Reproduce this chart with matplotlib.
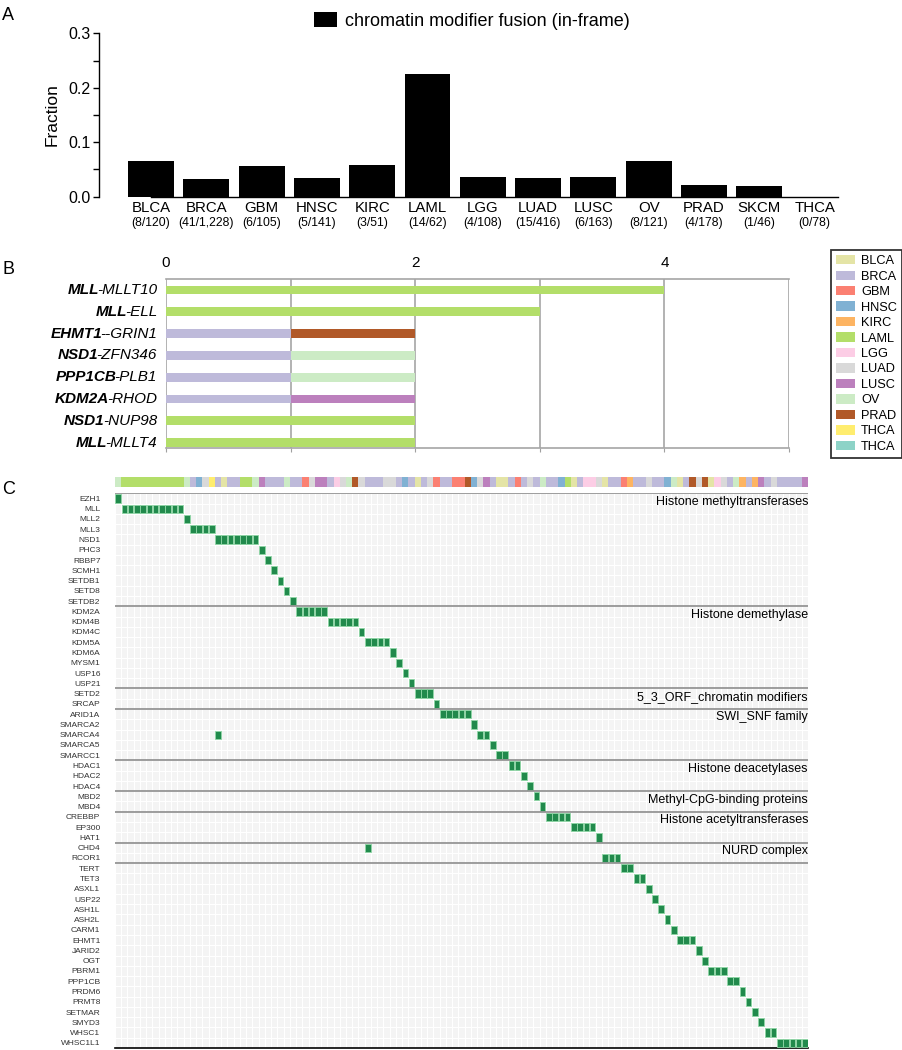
import matplotlib
matplotlib.use("Agg")
import matplotlib.pyplot as plt
from matplotlib.patches import Patch
import numpy as np

plt.rcParams["font.family"] = ["Liberation Sans", "DejaVu Sans"]

W, H = 902, 1050

# ---- panel A data ----
CANCERS = ["BLCA", "BRCA", "GBM", "HNSC", "KIRC", "LAML", "LGG", "LUAD", "LUSC",
           "OV", "PRAD", "SKCM", "THCA"]
CANCER_COUNTS = ["(8/120)", "(41/1,228)", "(6/105)", "(5/141)", "(3/51)", "(14/62)",
                 "(4/108)", "(15/416)", "(6/163)", "(8/121)", "(4/178)", "(1/46)", "(0/78)"]
FRACTION = [0.065, 0.032, 0.056, 0.034, 0.058, 0.225, 0.036, 0.034, 0.036,
            0.065, 0.021, 0.020, 0.0]

# ---- panel B data ----
FUSION_PREFIX = ["MLL", "MLL", "EHMT1", "NSD1", "PPP1CB", "KDM2A", "NSD1", "MLL"]
FUSION_SUFFIX = ["-MLLT10", "-ELL", "--GRIN1", "-ZFN346", "-PLB1", "-RHOD", "-NUP98", "-MLLT4"]
FUSION_SAMPLES = [
    [("LAML", 4)],
    [("LAML", 3)],
    [("BRCA", 1), ("PRAD", 1)],
    [("BRCA", 1), ("OV", 1)],
    [("BRCA", 1), ("OV", 1)],
    [("BRCA", 1), ("LUSC", 1)],
    [("LAML", 2)],
    [("LAML", 2)],
]

TYPE_KEYS = ["BLCA", "BRCA", "GBM", "HNSC", "KIRC", "LAML", "LGG", "LUAD", "LUSC",
             "OV", "PRAD", "SKCM", "THCA"]
TYPE_LABELS = ["BLCA", "BRCA", "GBM", "HNSC", "KIRC", "LAML", "LGG", "LUAD", "LUSC",
               "OV", "PRAD", "THCA", "THCA"]
TYPE_COLORS = ["#e4e4a6", "#bebada", "#fb8072", "#80b1d3", "#fdb462", "#b3de69",
               "#fccde5", "#d9d9d9", "#bc80bd", "#ccebc5", "#b15928", "#ffed6f", "#8dd3c7"]
COLOR_OF = dict(zip(TYPE_KEYS, TYPE_COLORS))

# ---- panel C data ----
GENES = ["EZH1", "MLL", "MLL2", "MLL3", "NSD1", "PHC3", "RBBP7", "SCMH1", "SETDB1", "SETD8",
         "SETDB2", "KDM2A", "KDM4B", "KDM4C", "KDM5A", "KDM6A", "MYSM1", "USP16", "USP21",
         "SETD2", "SRCAP", "ARID1A", "SMARCA2", "SMARCA4", "SMARCA5", "SMARCC1", "HDAC1",
         "HDAC2", "HDAC4", "MBD2", "MBD4", "CREBBP", "EP300", "HAT1", "CHD4", "RCOR1",
         "TERT", "TET3", "ASXL1", "USP22", "ASH1L", "ASH2L", "CARM1", "EHMT1", "JARID2",
         "OGT", "PBRM1", "PPP1CB", "PRDM6", "PRMT8", "SETMAR", "SMYD3", "WHSC1", "WHSC1L1"]
# samples per gene in the staircase ordering
GENE_SAMPLES = [1, 10, 1, 4, 7, 1, 1, 1, 1, 1,
                1, 5, 5, 1, 4, 1, 1, 1, 1,
                3, 1, 5, 1, 2, 1, 2, 2,
                1, 1, 1, 1, 4, 4, 1, 0, 3,
                2, 2, 1, 1, 1, 1, 1, 3, 1,
                1, 3, 2, 1, 1, 1, 1, 2, 5]
# additional hits outside the staircase: (gene, sample column)
EXTRA_HITS = [("SMARCA4", 16), ("CHD4", 40)]

GROUP_NAMES = ["Histone methyltransferases", "Histone demethylase",
               "5_3_ORF_chromatin modifiers", "SWI_SNF family", "Histone deacetylases",
               "Methyl-CpG-binding proteins", "Histone acetyltransferases", "NURD complex", ""]
GROUP_SIZES = [11, 8, 2, 5, 3, 2, 3, 2, 18]

SAMPLE_TYPES = (["OV"] + ["LAML"] * 10 +
                ["OV", "BRCA", "HNSC", "LUAD", "SKCM", "BRCA", "BLCA", "BRCA", "BRCA",
                 "LAML", "LAML", "OV", "LUSC", "BRCA", "BRCA", "BRCA", "OV", "BRCA", "BRCA",
                 "GBM", "LUAD", "LUSC", "LUSC", "BRCA", "LGG", "LUAD", "OV", "PRAD", "LUAD",
                 "BRCA", "BRCA", "BRCA", "LUAD", "LUAD", "BRCA", "HNSC", "BRCA", "BLCA", "BRCA",
                 "LUAD", "GBM", "BRCA", "BRCA", "GBM", "GBM", "PRAD", "HNSC", "LUAD", "LUSC",
                 "BRCA", "BLCA", "BLCA", "BRCA", "GBM", "BRCA", "LUAD", "BRCA", "OV", "BRCA",
                 "BRCA", "HNSC", "LAML", "BLCA", "BRCA", "LGG", "LGG", "LUAD", "BLCA", "BRCA",
                 "BRCA", "GBM", "KIRC", "BRCA", "BRCA", "LUAD", "BRCA", "BRCA", "HNSC", "OV",
                 "BLCA", "BRCA", "PRAD", "LUAD", "PRAD", "BLCA", "LGG", "LUAD", "BRCA", "OV",
                 "KIRC", "BRCA", "KIRC", "LUSC", "BRCA", "LUAD", "BRCA", "BRCA", "BRCA", "BRCA",
                 "LUSC"])


def px_axes(fig, left, top, right, bottom):
    return fig.add_axes([left / W, 1 - bottom / H, (right - left) / W, (bottom - top) / H])


fig = plt.figure(figsize=(W / 100, H / 100), dpi=100)

# ================= Panel A =================
axA = px_axes(fig, 99, 33.3, 840, 196.7)
x = np.arange(len(CANCERS))
axA.bar(x, FRACTION, width=0.83, color="black", label="chromatin modifier fusion (in-frame)")
axA.set_xlim(-0.94, 12.46)
axA.set_ylim(0, 0.3)
axA.set_yticks([0.0, 0.1, 0.2, 0.3])
axA.set_yticklabels(["0.0", "0.1", "0.2", "0.3"])
axA.set_yticks([0.05, 0.15, 0.25], minor=True)
axA.tick_params(axis="y", which="both", direction="out", length=4, width=1, labelsize=11.5, pad=2)
axA.set_xticks([])
for s in ["top", "right"]:
    axA.spines[s].set_visible(False)
axA.spines["left"].set_linewidth(1)
axA.spines["bottom"].set_linewidth(1)
axA.spines["bottom"].set_bounds(0, 12.42)
axA.set_ylabel("Fraction", fontsize=12.5, labelpad=6)
for i, (name, cnt) in enumerate(zip(CANCERS, CANCER_COUNTS)):
    axA.annotate(name, xy=(i, 0), xycoords=("data", "axes fraction"), xytext=(0, -11.5),
                 textcoords="offset pixels", ha="center", va="center", fontsize=10.8)
    axA.annotate(cnt, xy=(i, 0), xycoords=("data", "axes fraction"), xytext=(0, -26),
                 textcoords="offset pixels", ha="center", va="center", fontsize=8.8)
axA.legend(loc="center left", bbox_to_anchor=(314 / W, 1 - 21 / H), bbox_transform=fig.transFigure,
           frameon=False, fontsize=13, handlelength=1.25, handleheight=0.9, handletextpad=0.45,
           borderpad=0, borderaxespad=0)
fig.text(2 / W, 1 - 15 / H, "A", fontsize=13, va="center", ha="left")

# ================= Panel B =================
axB = px_axes(fig, 166, 279.3, 789, 448.3)
for i, samples in enumerate(FUSION_SAMPLES):
    left = 0
    for ctype, n in samples:
        axB.barh(i, n, left=left, height=0.41, color=COLOR_OF[ctype], zorder=3)
        left += n
axB.set_xlim(0, 5)
axB.set_ylim(7.26, -0.49)
axB.set_xticks(range(6))
axB.set_xticklabels(["0", "", "2", "", "4", ""])
axB.tick_params(axis="x", top=False, bottom=True, labeltop=True, labelbottom=False,
                length=3, color="#a0a0a0", labelsize=11, pad=4)
axB.set_yticks([])
axB.grid(axis="x", color="#a6a6a6", linewidth=1.2, zorder=1)
for s in ["left", "right"]:
    axB.spines[s].set_visible(False)
for s in ["top", "bottom"]:
    axB.spines[s].set_color("#a6a6a6")
    axB.spines[s].set_linewidth(1.2)
for i, (pre, suf) in enumerate(zip(FUSION_PREFIX, FUSION_SUFFIX)):
    t = axB.annotate(suf, xy=(0, i), xycoords="data", xytext=(-9, 0), textcoords="offset pixels",
                     ha="right", va="center", fontsize=11, style="italic")
    axB.annotate(pre, xy=(0, 0), xycoords=t, xytext=(2, 0), textcoords="offset pixels",
                 ha="right", va="bottom", fontsize=11, style="italic", weight="bold")
handles = [Patch(facecolor=c, edgecolor="none") for c in TYPE_COLORS]
leg = fig.legend(handles, TYPE_LABELS, loc="upper left", bbox_to_anchor=(831 / W, 1 - 250 / H),
                 fontsize=9.2, frameon=True, fancybox=False, edgecolor="black", handlelength=1.45,
                 handleheight=0.75, labelspacing=0.26, handletextpad=0.5, borderpad=0.4,
                 borderaxespad=0)
leg.get_frame().set_linewidth(1.3)
fig.text(2 / W, 1 - 270 / H, "B", fontsize=13, va="center", ha="left")

# ================= Panel C =================
n_samples = len(SAMPLE_TYPES)
axS = px_axes(fig, 115, 477.3, 808, 487.3)
axS.bar(np.arange(n_samples), 1, width=1, color=[COLOR_OF[t] for t in SAMPLE_TYPES], linewidth=0)
axS.set_xlim(-0.5, n_samples - 0.5)
axS.set_ylim(0, 1)
axS.axis("off")

axC = px_axes(fig, 115, 493.3, 808, 1048)
axC.set_facecolor("#f4f4f4")
axC.set_xlim(-0.5, n_samples - 0.5)
axC.set_ylim(len(GENES) - 0.5, -0.5)
axC.set_xticks(np.arange(-0.5, n_samples, 1), minor=True)
axC.set_yticks(np.arange(-0.5, len(GENES), 1), minor=True)
axC.grid(which="minor", color="white", linewidth=0.8)
axC.set_xticks([])
axC.set_yticks(range(len(GENES)))
axC.set_yticklabels(GENES, fontsize=6, color="#333333")
axC.tick_params(axis="y", which="both", length=0, pad=10.5)
axC.tick_params(axis="x", which="both", length=0)
for s in ["top", "left", "right"]:
    axC.spines[s].set_visible(False)
axC.spines["bottom"].set_color("black")
axC.spines["bottom"].set_linewidth(1.2)

hit_cols, hit_rows = [], []
start = 0
for r, n in enumerate(GENE_SAMPLES):
    for c in range(start, start + n):
        hit_cols.append(c)
        hit_rows.append(r)
    start += n
for g, c in EXTRA_HITS:
    hit_cols.append(c)
    hit_rows.append(GENES.index(g))
hit_rows = np.array(hit_rows)
axC.bar(hit_cols, 0.8, bottom=hit_rows - 0.4, width=0.9, color="#218a4c",
        edgecolor="#8fd6a6", linewidth=0.6, zorder=3)

row0 = 0
for name, size in zip(GROUP_NAMES, GROUP_SIZES):
    if row0 < len(GENES):
        axC.axhline(row0 - 0.5, color="#8c8c8c", linewidth=1.2, zorder=4)
    if name:
        axC.text(n_samples - 0.5, row0 + 0.32, name, ha="right", va="center", fontsize=9,
                 color="black", zorder=5)
    row0 += size
fig.text(2 / W, 1 - 490 / H, "C", fontsize=13, va="center", ha="left")

fig.savefig("out.png", dpi=100)
